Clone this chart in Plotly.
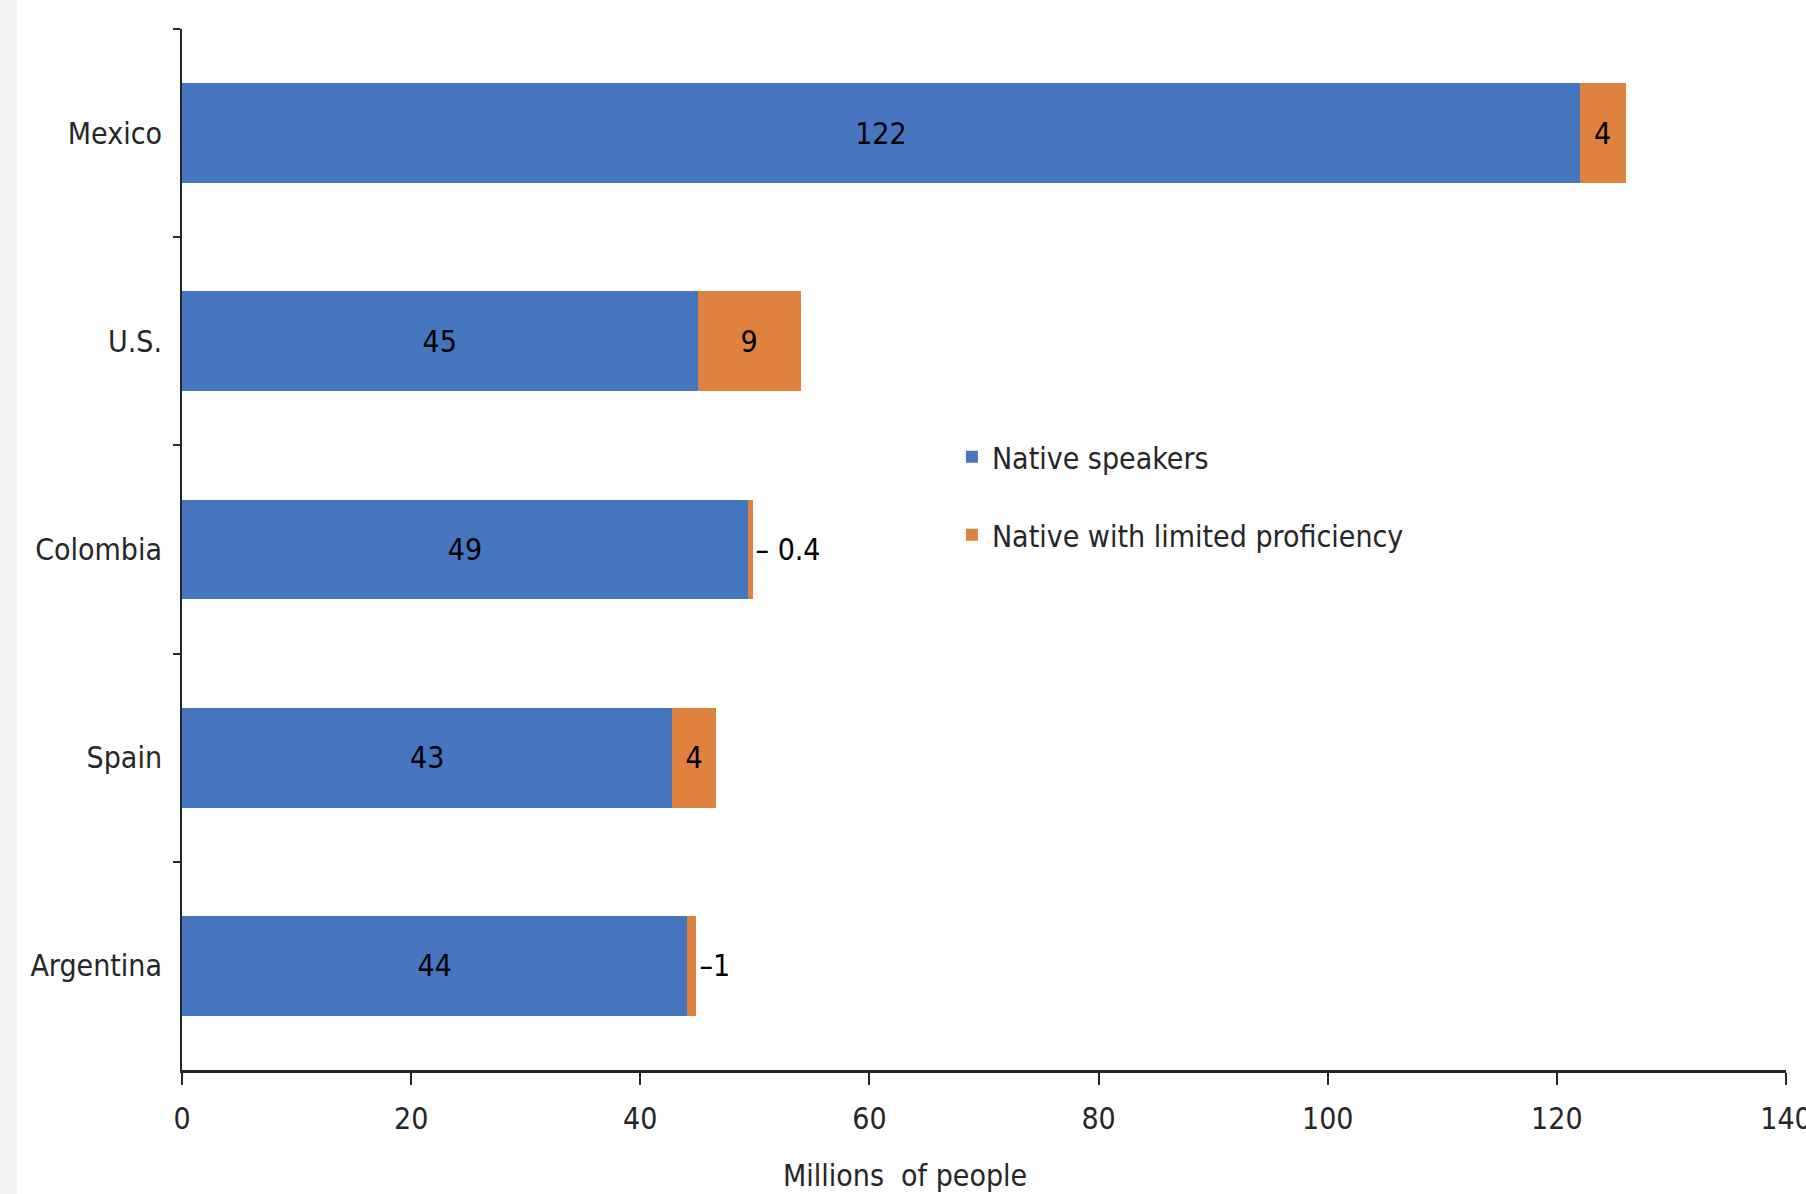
import plotly.graph_objects as go

countries = ["Mexico", "U.S.", "Colombia", "Spain", "Argentina"]
native = [122, 45, 49.4, 42.8, 44.1]
limited = [4, 9, 0.4, 3.8, 0.8]
native_labels = ["122", "45", "49", "43", "44"]
limited_labels = ["4", "9", "– 0.4", "4", "–1"]
limited_pos = ["inside", "inside", "outside", "inside", "outside"]
x_ticks = [0, 20, 40, 60, 80, 100, 120, 140]

FONT = "DejaVu Sans Condensed, Liberation Sans Narrow, Arial Narrow, sans-serif"
BLUE = "#4676C0"
ORANGE = "#E0823F"
FS = 30

fig = go.Figure()
fig.add_trace(go.Bar(
    y=countries, x=native, orientation="h", name="Native speakers",
    marker=dict(color=BLUE, line=dict(width=0)),
    text=native_labels, textposition="inside", insidetextanchor="middle",
    textfont=dict(family=FONT, size=FS, color="#000000"),
    legendgroup="a", width=0.48,
))
fig.add_trace(go.Bar(
    y=countries, x=limited, orientation="h", name="Native with limited proficiency",
    marker=dict(color=ORANGE, line=dict(width=0)),
    text=limited_labels, textposition=limited_pos, insidetextanchor="middle",
    textfont=dict(family=FONT, size=FS, color="#000000"),
    legendgroup="b", width=0.48, cliponaxis=False,
))

fig.update_layout(
    barmode="stack",
    width=1806, height=1194,
    margin=dict(l=182, r=20, t=29, b=124, autoexpand=False),
    paper_bgcolor="white", plot_bgcolor="white",
    font=dict(family=FONT, size=FS, color="#262626"),
    uniformtext=dict(minsize=FS, mode="show"),
    showlegend=True,
    legend=dict(
        x=0.48, y=0.614, xanchor="left", yanchor="top",
        traceorder="grouped", tracegroupgap=36,
        font=dict(family=FONT, size=FS, color="#262626"),
        bgcolor="rgba(0,0,0,0)", itemwidth=30,
    ),
    xaxis=dict(
        range=[0, 140], tickvals=x_ticks, ticks="outside", ticklen=12, tickwidth=2,
        tickcolor="#262626", showline=True, linecolor="#262626", linewidth=3,
        showgrid=False, zeroline=False, ticklabeloverflow="allow", automargin=False,
        ticklabelstandoff=8,
        tickfont=dict(family=FONT, size=FS, color="#262626"),
    ),
    yaxis=dict(
        autorange="reversed", ticks="outside", tickson="boundaries", ticklen=7,
        tickwidth=2, tickcolor="#262626", showline=True, linecolor="#262626",
        linewidth=2, showgrid=False, zeroline=False, ticklabelstandoff=12,
        automargin=False,
        tickfont=dict(family=FONT, size=FS, color="#262626"),
    ),
    annotations=[dict(text="Millions  of people", xref="paper", yref="paper",
                      x=0.451, y=-0.101, xanchor="center", yanchor="middle",
                      showarrow=False, font=dict(family=FONT, size=FS, color="#262626"))],
    shapes=[dict(type="rect", xref="paper", yref="paper", x0=-0.12, x1=-0.1029,
                 y0=-0.2, y1=1.05, fillcolor="#f2f2f2", line=dict(width=0), layer="below")],
)

fig.write_html("out.html")
